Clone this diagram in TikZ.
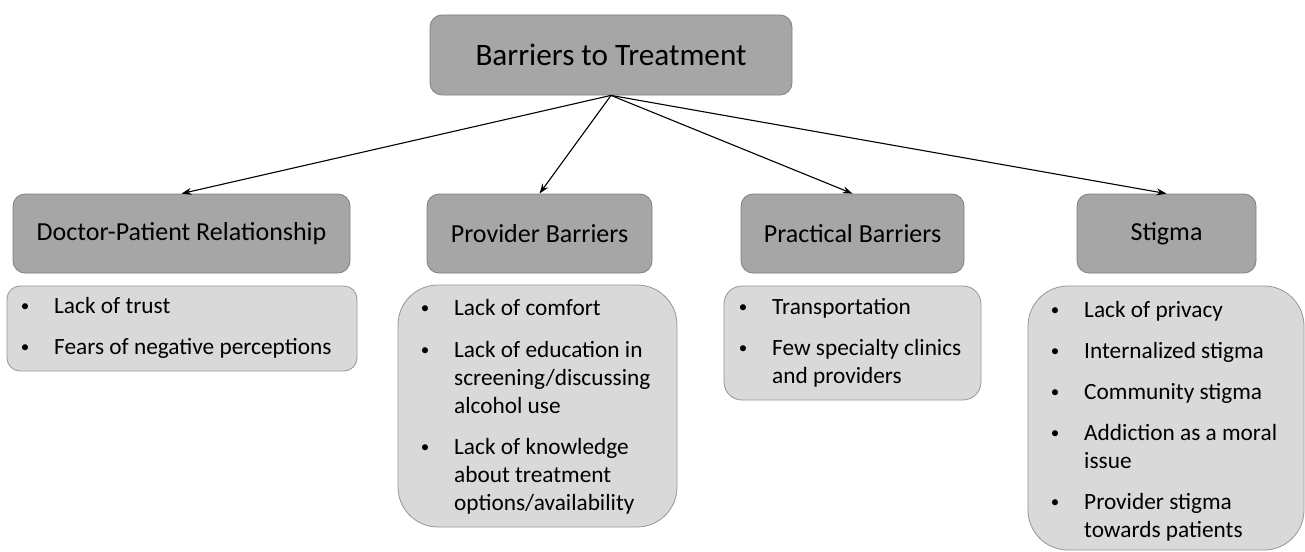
\documentclass[tikz,border=0pt]{standalone}
\usepackage{fontspec}
\setmainfont{Carlito}
\usetikzlibrary{arrows.meta}
\definecolor{headfill}{RGB}{166,166,166}
\definecolor{headline}{RGB}{128,128,128}
\definecolor{listfill}{RGB}{217,217,217}
\definecolor{listline}{RGB}{150,150,150}
% bullet hanging on the left edge, text indented after it
\newcommand{\bul}{\makebox[29pt][l]{\makebox[0pt]{\raisebox{1.5pt}{\fontsize{17}{20}\selectfont •}}}}
\newcommand{\ind}{\hspace*{29pt}}
\begin{document}
\begin{tikzpicture}[x=1pt,y=-1pt,
  headbox/.style={draw=headline, fill=headfill, line width=0.8pt,
    rounded corners=12pt, inner sep=0pt, align=center,
    font=\fontsize{26}{30}\selectfont},
  listbox/.style={draw=listline, fill=listfill, line width=0.8pt, inner sep=0pt},
  listtext/.style={anchor=base west, inner sep=0pt,
    font=\fontsize{23.3}{28}\selectfont},
  link/.style={-{Stealth[length=10pt,width=7pt]}, line width=1.1pt, black}]
\useasboundingbox (0,0) rectangle (1305,551);

% root
\node[headbox, minimum width=362pt, minimum height=80pt,
  font=\fontsize{31.2}{36}\selectfont] (root) at (611,55) {Barriers to Treatment};

% categories
\node[headbox, minimum width=337pt, minimum height=79pt] (doc) at (181.5,233.5) {Doctor-Patient Relationship};
\node[headbox, minimum width=225pt, minimum height=79pt] (prov) at (539.5,233.5) {Provider Barriers};
\node[headbox, minimum width=223pt, minimum height=79pt] (prac) at (852.5,233.5) {Practical Barriers};
\node[headbox, minimum width=179pt, minimum height=79pt] (stig) at (1166.5,233.5) {Stigma};

% arrows from the root
\draw[link] (root.south) -- (doc.north);
\draw[link] (root.south) -- (prov.north);
\draw[link] (root.south) -- (prac.north);
\draw[link] (root.south) -- (stig.north);

% list panels
\node[listbox, rounded corners=13pt, minimum width=350pt, minimum height=85pt] (docl) at (182,328.5) {};
\node[listbox, rounded corners=40pt, minimum width=279pt, minimum height=242pt] (provl) at (537.5,406) {};
\node[listbox, rounded corners=18pt, minimum width=257pt, minimum height=114pt] (pracl) at (852.5,343) {};
\node[listbox, rounded corners=40pt, minimum width=276pt, minimum height=264pt] (stigl) at (1166,418) {};

% list contents
\node[listtext] (doct) at (25,313) {\begin{tabular}[t]{@{}l@{}}
\bul Lack of trust\\[13pt]
\bul Fears of negative perceptions
\end{tabular}};

\node[listtext] (provt) at (425,315) {\begin{tabular}[t]{@{}l@{}}
\bul Lack of comfort\\[14pt]
\bul Lack of education in\\
\ind screening/discussing\\
\ind alcohol use\\[13pt]
\bul Lack of knowledge\\
\ind about treatment\\
\ind options/availability
\end{tabular}};

\node[listtext] (pract) at (743,314) {\begin{tabular}[t]{@{}l@{}}
\bul Transportation\\[13pt]
\bul Few specialty clinics\\
\ind and providers
\end{tabular}};

\node[listtext] (stigt) at (1055,317) {\begin{tabular}[t]{@{}l@{}}
\bul Lack of privacy\\[13pt]
\bul Internalized stigma\\[13pt]
\bul Community stigma\\[13pt]
\bul Addiction as a moral\\
\ind issue\\[13pt]
\bul Provider stigma\\
\ind towards patients
\end{tabular}};
\end{tikzpicture}
\end{document}
